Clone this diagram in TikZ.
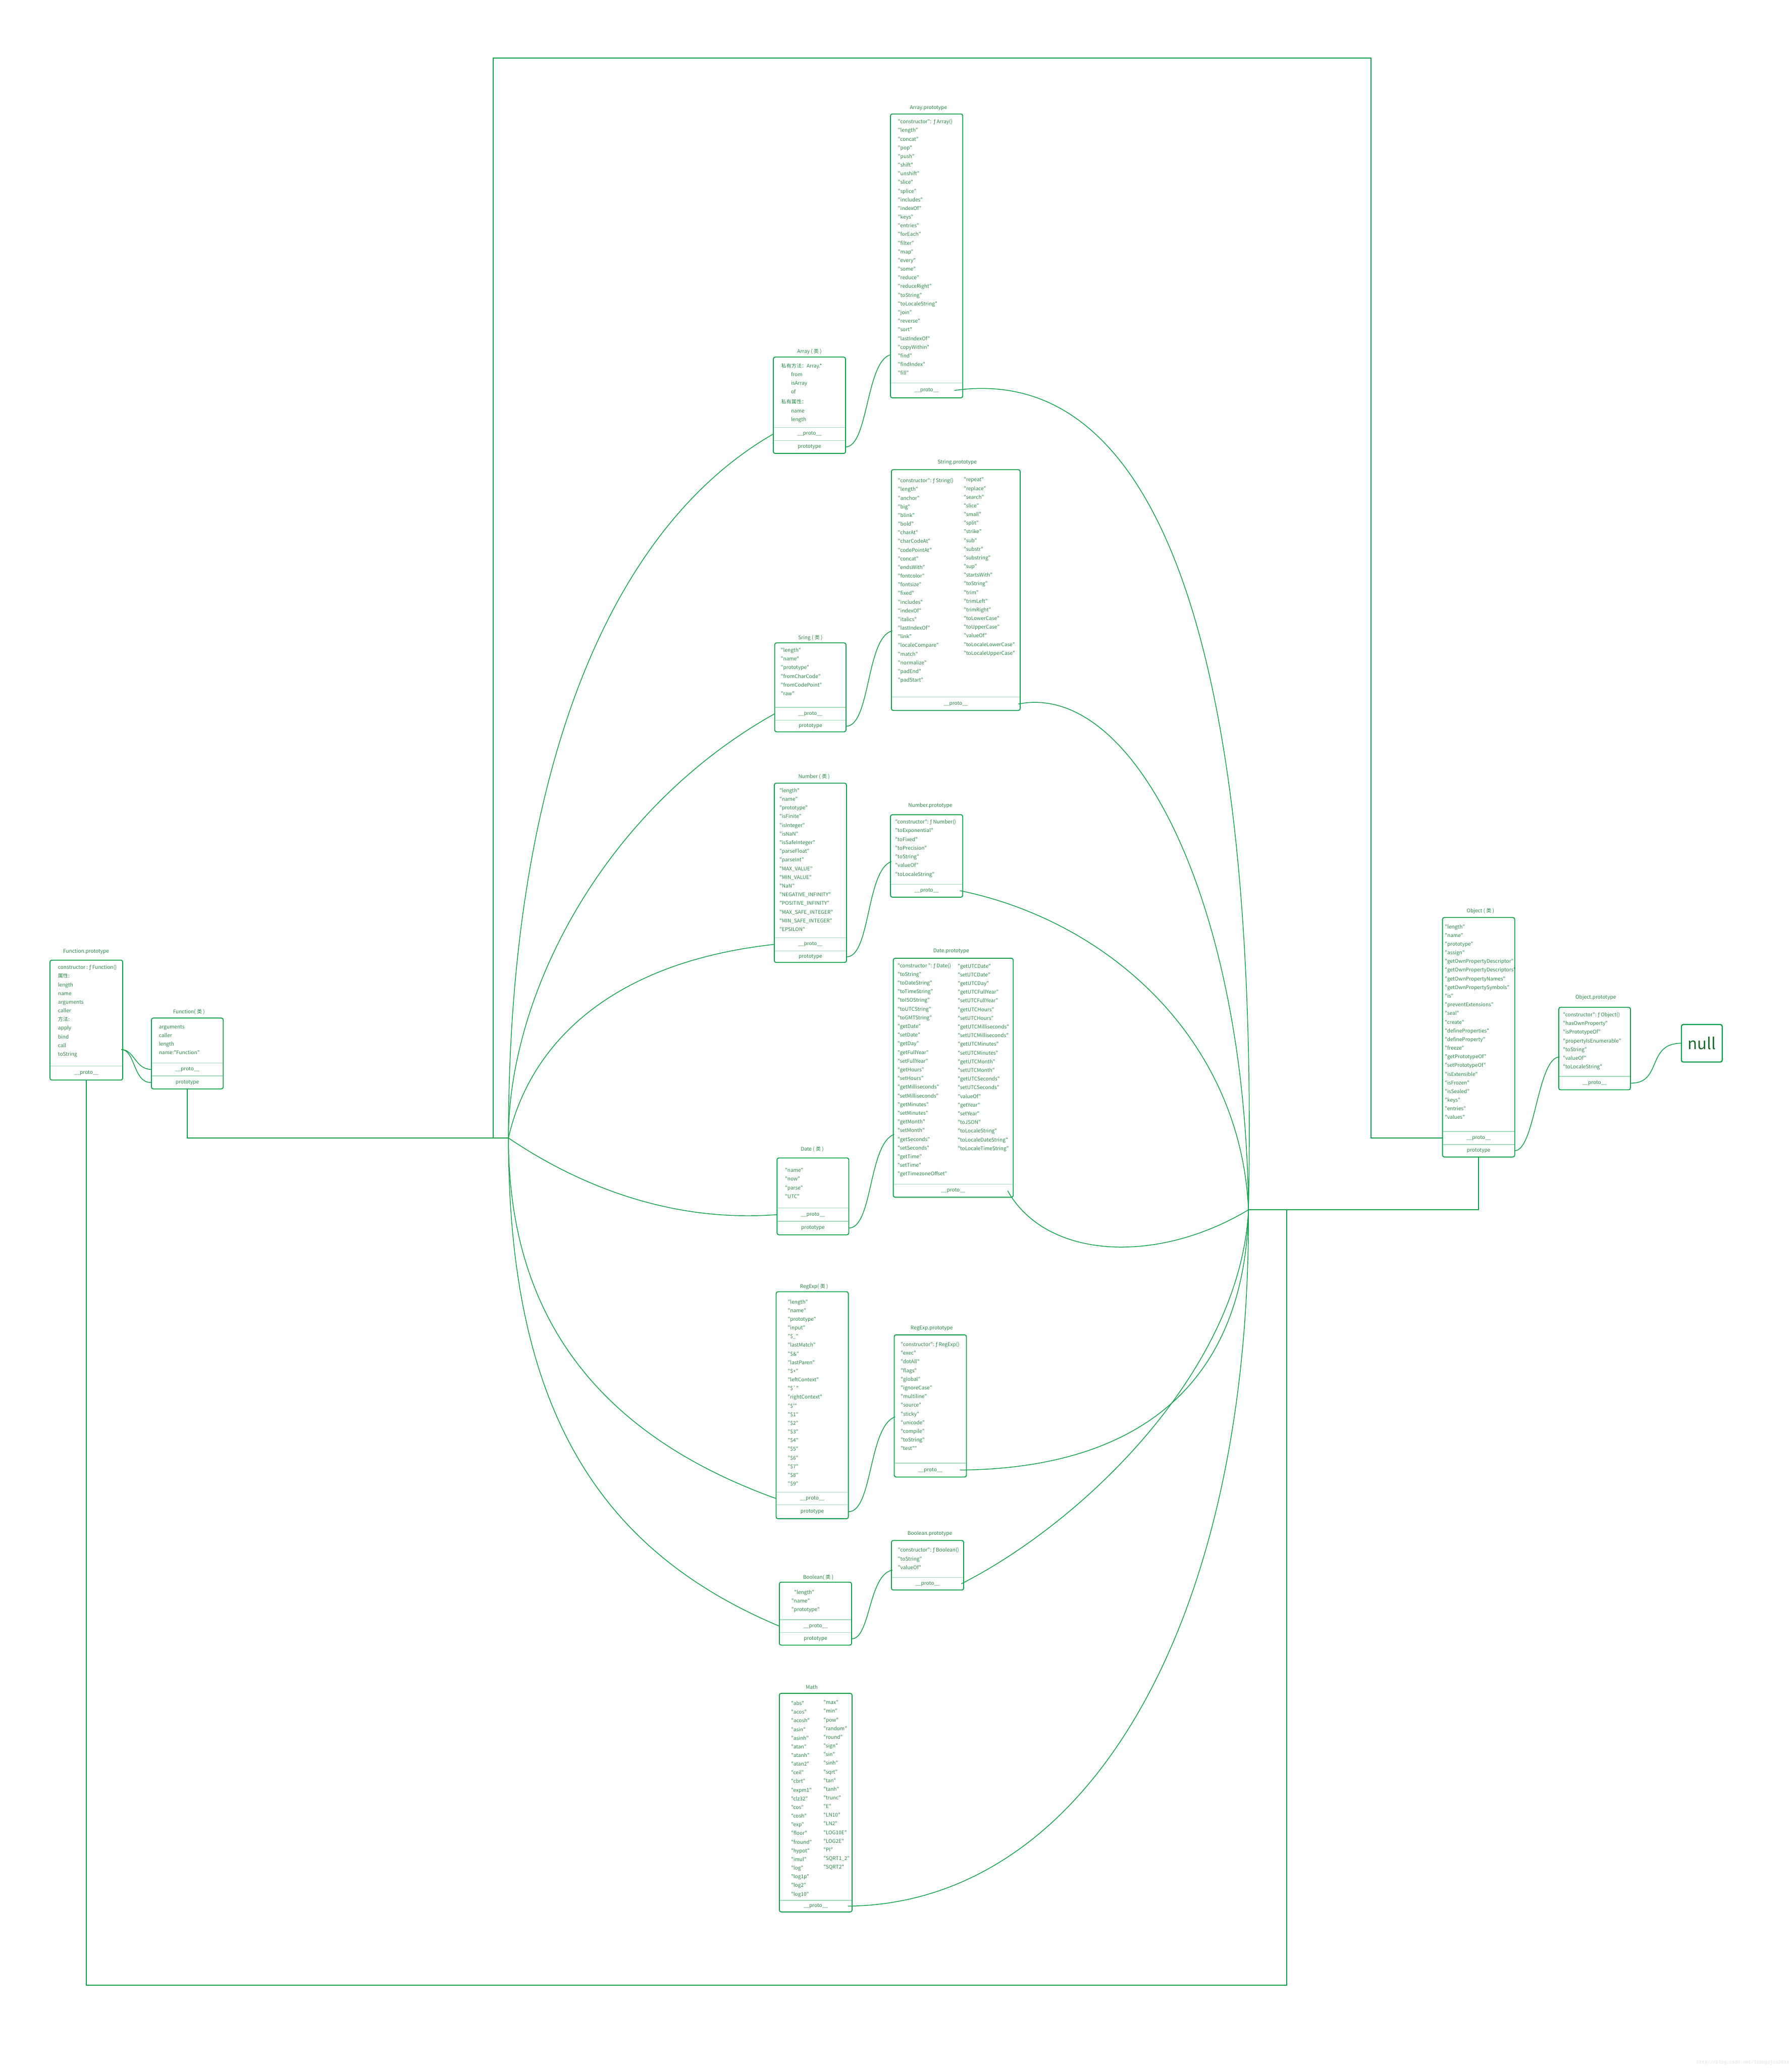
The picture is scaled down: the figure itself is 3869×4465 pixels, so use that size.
\documentclass[tikz,border=0pt]{standalone}
\usepackage{fontspec}
\newfontfamily\cjk{Noto Sans CJK SC}
\setmainfont{Noto Sans CJK SC}
\newfontfamily\fsym{DejaVu Sans}
\newfontfamily\wmfont{Liberation Mono}
\newcommand\ffn{{\fsym ƒ}}
\definecolor{lc}{RGB}{18,160,75}
\definecolor{tc}{RGB}{40,135,65}
\definecolor{dc}{RGB}{160,218,182}
\definecolor{nc}{RGB}{25,105,45}
\newcommand\bx[5]{\node[box,minimum width={#4pt-#2pt},minimum height={#5pt-#3pt}] (#1) at ({(#2+#4)/2},{(#3+#5)/2}) {};}
\newcommand\dv[3]{\draw[divl] ({#1+1},#3) -- ({#2-1},#3);}
\newcommand\rw[6]{\node[rowtxt,minimum width={#3pt-#2pt},minimum height=#5pt] (#1) at ({(#2+#3)/2},#4) {#6};}
\newcommand\col[5]{\foreach \t [count=\i] in {#5}{\node[itm] (#1\i) at (#2,{#3+(\i-1)*#4}) {\t};}}
\begin{document}
\begin{tikzpicture}[x=1pt,y=-1pt,
  box/.style={draw=lc,line width=2pt,rounded corners=4pt,inner sep=0pt,outer sep=0pt},
  ttl/.style={text=tc,font=\cjk\fontsize{11}{13}\selectfont,inner sep=0pt},
  itm/.style={text=tc,font=\cjk\fontsize{11}{13}\selectfont,anchor=west,inner sep=0pt,text height=8pt,text depth=2.5pt},
  rowtxt/.style={text=tc,font=\cjk\fontsize{11}{13}\selectfont,inner sep=0pt,outer sep=0pt},
  divl/.style={draw=dc,line width=1.5pt},
  conn/.style={draw=lc,line width=1.6pt},
  orth/.style={draw=lc,line width=2.4pt},
  nullbox/.style={draw=lc,line width=2.6pt,rounded corners=4pt,text=nc,font=\cjk\fontsize{34}{40}\selectfont,inner sep=0pt}]
\fill[white] (0,0) rectangle (3869,4465);
\useasboundingbox (0,0) rectangle (3869,4465);

% ---------- Function.prototype
\node[ttl] (fp-t) at (186,2055) {Function.prototype};
\bx{fp}{108}{2073}{265}{2332}
\dv{108}{265}{2302}
\rw{fp-pr}{108}{265}{2317}{30}{\_\_proto\_\_}
\col{fp-}{125}{2090}{18.7}{constructor : \ffn\ Function(),属性:,length,name,arguments,caller,方法:,apply,bind,call,toString}

% ---------- Function (class)
\node[ttl] (fn-t) at (408,2185) {Function( 类 )};
\bx{fn}{327}{2198}{482}{2351}
\dv{327}{482}{2295}\dv{327}{482}{2323}
\rw{fn-pr}{327}{482}{2309}{28}{\_\_proto\_\_}
\rw{fn-pt}{327}{482}{2337}{28}{prototype}
\col{fn-}{343}{2218}{18.7}{arguments,caller,length,name:"Function"}

% ---------- Array (class)
\node[ttl] (arr-t) at (1748,759) {Array ( 类 )};
\bx{arr}{1670}{771}{1826}{979}
\dv{1670}{1826}{923}\dv{1670}{1826}{951}
\rw{arr-pr}{1670}{1826}{937}{28}{\_\_proto\_\_}
\rw{arr-pt}{1670}{1826}{965}{28}{prototype}
\col{arr-a}{1687}{791}{78}{私有方法：Array.*,私有属性：}
\col{arr-b}{1708}{810}{18.7}{from,isArray,of}
\col{arr-c}{1708}{888}{18.7}{name,length}

% ---------- Array.prototype
\node[ttl] (arrp-t) at (2005,233) {Array.prototype};
\bx{arrp}{1923}{246}{2079}{859}
\dv{1923}{2079}{827}
\rw{arrp-pr}{1923}{2079}{843}{32}{\_\_proto\_\_}
\col{arrp-}{1939}{264}{18.72}{"constructor":\ \ \ffn\ Array(),"length","concat","pop","push","shift","unshift","slice","splice","includes","indexOf","keys","entries","forEach","filter","map","every","some","reduce","reduceRight","toString","toLocaleString","join","reverse","sort","lastIndexOf","copyWithin","find","findIndex","fill"}

% ---------- String (class)
\node[ttl] (str-t) at (1750,1377) {Sring ( 类 )};
\bx{str}{1673}{1388}{1827}{1580}
\dv{1673}{1827}{1527}\dv{1673}{1827}{1555}
\rw{str-pr}{1673}{1827}{1541}{28}{\_\_proto\_\_}
\rw{str-pt}{1673}{1827}{1568}{25}{prototype}
\col{str-}{1686}{1405}{18.8}{"length","name","prototype","fromCharCode","fromCodePoint","raw"}

% ---------- String.prototype
\node[ttl] (strp-t) at (2067,998) {String.prototype};
\bx{strp}{1925}{1014}{2203}{1534}
\dv{1925}{2203}{1505}
\rw{strp-pr}{1925}{2203}{1520}{29}{\_\_proto\_\_}
\col{strp-a}{1939}{1039}{18.72}{"constructor": \ffn\ String(),"length","anchor","big","blink","bold","charAt","charCodeAt","codePointAt","concat","endsWith","fontcolor","fontsize","fixed","includes","indexOf","italics","lastIndexOf","link","localeCompare","match","normalize","padEnd","padStart"}
\col{strp-b}{2081}{1037}{18.72}{"repeat","replace","search","slice","small","split","strike","sub","substr","substring","sup","startsWith","toString","trim","trimLeft","trimRight","toLowerCase","toUpperCase","valueOf","toLocaleLowerCase","toLocaleUpperCase"}

% ---------- Number (class)
\node[ttl] (num-t) at (1758,1677) {Number ( 类 )};
\bx{num}{1672}{1691}{1828}{2078}
\dv{1672}{1828}{2025}\dv{1672}{1828}{2053}
\rw{num-pr}{1672}{1828}{2039}{28}{\_\_proto\_\_}
\rw{num-pt}{1672}{1828}{2066}{25}{prototype}
\col{num-}{1683}{1708}{18.75}{"length","name","prototype","isFinite","isInteger","isNaN","isSafeInteger","parseFloat","parseInt","MAX\_VALUE","MIN\_VALUE","NaN","NEGATIVE\_INFINITY","POSITIVE\_INFINITY","MAX\_SAFE\_INTEGER","MIN\_SAFE\_INTEGER","EPSILON"}

% ---------- Number.prototype
\node[ttl] (nump-t) at (2009,1739) {Number.prototype};
\bx{nump}{1923}{1759}{2079}{1937}
\dv{1923}{2079}{1909}
\rw{nump-pr}{1923}{2079}{1923}{28}{\_\_proto\_\_}
\col{nump-}{1933}{1776}{18.77}{"constructor": \ffn\ Number(),"toExponential","toFixed","toPrecision","toString","valueOf","toLocaleString"}

% ---------- Date (class)
\node[ttl] (dat-t) at (1754,2481) {Date ( 类 )};
\bx{dat}{1678}{2500}{1833}{2666}
\dv{1678}{1833}{2608}\dv{1678}{1833}{2637}
\rw{dat-pr}{1678}{1833}{2622.5}{29}{\_\_proto\_\_}
\rw{dat-pt}{1678}{1833}{2651.5}{29}{prototype}
\col{dat-}{1695}{2528}{18.8}{"name","now","parse","UTC"}

% ---------- Date.prototype
\node[ttl] (datp-t) at (2054,2054) {Date.prototype};
\bx{datp}{1929}{2069}{2188}{2585}
\dv{1929}{2188}{2557}
\rw{datp-pr}{1929}{2188}{2571}{28}{\_\_proto\_\_}
\col{datp-a}{1938}{2086}{18.75}{"constructor ": \ffn\ Date(),"toString","toDateString","toTimeString","toISOString","toUTCString","toGMTString","getDate","setDate","getDay","getFullYear","setFullYear","getHours","setHours","getMilliseconds","setMilliseconds","getMinutes","setMinutes","getMonth","setMonth","getSeconds","setSeconds","getTime","setTime","getTimezoneOffset"}
\col{datp-b}{2068}{2087}{18.75}{"getUTCDate","setUTCDate","getUTCDay","getUTCFullYear","setUTCFullYear","getUTCHours","setUTCHours","getUTCMilliseconds","setUTCMilliseconds","getUTCMinutes","setUTCMinutes","getUTCMonth","setUTCMonth","getUTCSeconds","setUTCSeconds","valueOf","getYear","setYear","toJSON","toLocaleString","toLocaleDateString","toLocaleTimeString"}

% ---------- RegExp (class)
\node[ttl] (reg-t) at (1758,2778) {RegExp( 类 )};
\bx{reg}{1676}{2789}{1832}{3279}
\dv{1676}{1832}{3222}\dv{1676}{1832}{3249}
\rw{reg-pr}{1676}{1832}{3235.5}{27}{\_\_proto\_\_}
\rw{reg-pt}{1676}{1832}{3264}{30}{prototype}
\col{reg-}{1701}{2812}{18.71}{"length","name","prototype","input","\$\_","lastMatch","\$\&","lastParen","\$+","leftContext","\$\textasciigrave","rightContext","\$\textquotesingle","\$1","\$2","\$3","\$4","\$5","\$6","\$7","\$8","\$9"}

% ---------- RegExp.prototype
\node[ttl] (regp-t) at (2012,2868) {RegExp.prototype};
\bx{regp}{1931}{2882}{2087}{3189}
\dv{1931}{2087}{3159}
\rw{regp-pr}{1931}{2087}{3174}{30}{\_\_proto\_\_}
\col{regp-}{1945}{2904}{18.75}{"constructor": \ffn\ RegExp(),"exec","dotAll","flags","global","ignoreCase","multiline","source","sticky","unicode","compile","toString","test""}

% ---------- Boolean (class)
\node[ttl] (boo-t) at (1767,3406) {Boolean( 类 )};
\bx{boo}{1683}{3416}{1839}{3552}
\dv{1683}{1839}{3497}\dv{1683}{1839}{3525}
\rw{boo-pr}{1683}{1839}{3511}{28}{\_\_proto\_\_}
\rw{boo-pt}{1683}{1839}{3538.5}{27}{prototype}
\node[itm] (boo-1) at (1715,3439) {"length"};
\col{boo-x}{1709}{3458}{18.5}{"name","prototype"}

% ---------- Boolean.prototype
\node[ttl] (boop-t) at (2008,3311) {Boolean.prototype};
\bx{boop}{1925}{3326}{2081}{3433}
\dv{1925}{2081}{3406}
\rw{boop-pr}{1925}{2081}{3419.5}{27}{\_\_proto\_\_}
\col{boop-}{1939}{3348}{18.7}{"constructor": \ffn\ Boolean(),"toString","valueOf"}

% ---------- Math
\node[ttl] (mth-t) at (1753,3643) {Math};
\bx{mth}{1683}{3656}{1840}{4128}
\dv{1683}{1840}{4103}
\rw{mth-pr}{1683}{1840}{4115.5}{25}{\_\_proto\_\_}
\col{mth-a}{1708}{3679}{18.71}{"abs","acos","acosh","asin","asinh","atan","atanh","atan2","ceil","cbrt","expm1","clz32","cos","cosh","exp","floor","fround","hypot","imul","log","log1p","log2","log10"}
\col{mth-b}{1778}{3677}{18.71}{"max","min","pow","random","round","sign","sin","sinh","sqrt","tan","tanh","trunc","E","LN10","LN2","LOG10E","LOG2E","PI","SQRT1\_2","SQRT2"}

% ---------- Object (class)
\node[ttl] (obj-t) at (3197,1967) {Object ( 类 )};
\bx{obj}{3115}{1981}{3271}{2498}
\dv{3115}{3271}{2443}\dv{3115}{3271}{2471}
\rw{obj-pr}{3115}{3271}{2457}{28}{\_\_proto\_\_}
\rw{obj-pt}{3115}{3271}{2484.5}{27}{prototype}
\col{obj-}{3120}{2002}{18.72}{"length","name","prototype","assign","getOwnPropertyDescriptor","getOwnPropertyDescriptors","getOwnPropertyNames","getOwnPropertySymbols","is","preventExtensions","seal","create","defineProperties","defineProperty","freeze","getPrototypeOf","setPrototypeOf","isExtensible","isFrozen","isSealed","keys","entries","values"}

% ---------- Object.prototype
\node[ttl] (objp-t) at (3446,2154) {Object.prototype};
\bx{objp}{3366}{2175}{3521}{2353}
\dv{3366}{3521}{2324}
\rw{objp-pr}{3366}{3521}{2338.5}{29}{\_\_proto\_\_}
\col{objp-}{3375}{2192}{18.8}{"constructor": \ffn\ Object(),"hasOwnProperty","isPrototypeOf","propertyIsEnumerable","toString","valueOf","toLocaleString"}

% ---------- null
\node[nullbox,minimum width=88pt,minimum height=81pt] (null) at (3675,2252.5) {null};

% ---------- watermark
\node[text=black!12,font=\wmfont\fontsize{9.8}{11}\selectfont,anchor=east,inner sep=0pt] (wm) at (3864,4453) {http://blog.csdn.net/liangsjss2011};

% ---------- coordinates
\coordinate (hubL) at (1098,2457);
\coordinate (hubR) at (2696,2612);
\coordinate (fp-out) at (262,2266);
\coordinate (arrp-in) at (1923,766);
\coordinate (strp-in) at (1927,1362);
\coordinate (nump-in) at (1925,1860);
\coordinate (datp-in) at (1931,2449);
\coordinate (regp-in) at (1933,3059);
\coordinate (boop-in) at (1927,3390);
\coordinate (objp-in) at (3368,2282);
\coordinate (loopA) at (1065,2457);
\coordinate (loopC) at (2961,125);
\coordinate (brc) at (2779,4286);

% ---------- orthogonal lines
\draw[orth] (fn-pt.south) |- (hubL);
\draw[orth] (loopA) |- (loopC) |- (obj-pr.west);
\draw[orth] (obj-pt.south) |- (hubR);
\draw[orth] (fp-pr.south) |- (brc) -- (brc |- hubR);

% ---------- Function.prototype -> Function
\draw[conn] (fp-out) .. controls (290,2266) and (292,2309) .. (fn-pr.west);
\draw[conn] (fp-out) .. controls (292,2266) and (288,2340) .. (fn-pt.west);

% ---------- class prototype -> X.prototype
\draw[conn] (arr-pt.east) .. controls (1875,965) and (1870,780) .. (arrp-in);
\draw[conn] (str-pt.east) .. controls (1880,1568) and (1870,1375) .. (strp-in);
\draw[conn] (num-pt.east) .. controls (1880,2066) and (1870,1880) .. (nump-in);
\draw[conn] (dat-pt.east) .. controls (1885,2651) and (1875,2470) .. (datp-in);
\draw[conn] (reg-pt.east) .. controls (1885,3264) and (1875,3080) .. (regp-in);
\draw[conn] (boo-pt.east) .. controls (1880,3538) and (1875,3400) .. (boop-in);
\draw[conn] (obj-pt.east) .. controls (3315,2484) and (3320,2282) .. (objp-in);
\draw[conn] (objp-pr.east) .. controls (3590,2340) and (3555,2253) .. (null.west);

% ---------- left hub -> class __proto__
\draw[conn] (hubL) .. controls (1098,1700) and (1300,1150) .. (arr-pr.west);
\draw[conn] (hubL) .. controls (1098,2150) and (1300,1750) .. (str-pr.west);
\draw[conn] (hubL) .. controls (1140,2270) and (1300,2080) .. (num-pr.west);
\draw[conn] (hubL) .. controls (1250,2560) and (1450,2640) .. (dat-pr.west);
\draw[conn] (hubL) .. controls (1098,2850) and (1300,3100) .. (reg-pr.west);
\draw[conn] (hubL) .. controls (1098,3050) and (1300,3350) .. (boo-pr.west);

% ---------- X.prototype __proto__ -> right hub
\draw[conn] ([xshift=-18pt]arrp-pr.east) .. controls (2500,780) and (2720,1400) .. (hubR);
\draw[conn] ([xshift=-4pt]strp-pr.east) .. controls (2450,1470) and (2690,1950) .. (hubR);
\draw[conn] ([xshift=-6pt]nump-pr.east) .. controls (2400,1990) and (2680,2250) .. (hubR);
\draw[conn] ([xshift=-12pt]datp-pr.east) .. controls (2260,2720) and (2500,2730) .. (hubR);
\draw[conn] ([xshift=-14pt]regp-pr.east) .. controls (2500,3170) and (2690,2950) .. (hubR);
\draw[conn] ([xshift=-5pt]boop-pr.east) .. controls (2350,3280) and (2680,2950) .. (hubR);
\draw[conn] ([xshift=-9pt]mth-pr.east) .. controls (2350,4110) and (2700,3500) .. (hubR);
\end{tikzpicture}
\end{document}
